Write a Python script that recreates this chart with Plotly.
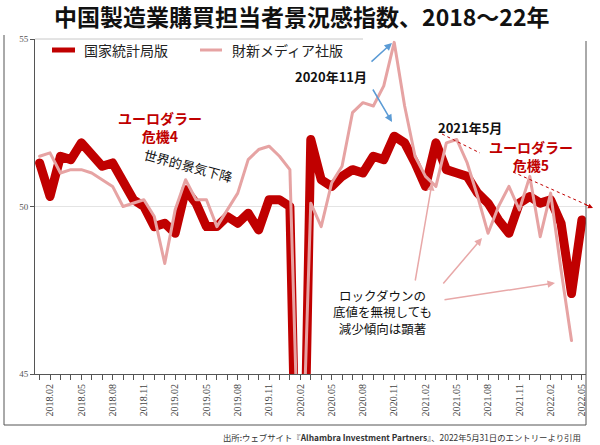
import plotly.graph_objects as go

# ---------------- data ----------------
years = [2018, 2019, 2020, 2021, 2022]
months = [f"{y}.{m:02d}" for y in years for m in range(1, 13)][:53]  # 2018.01 .. 2022.05

nbs_pmi = [51.3, 50.3, 51.5, 51.4, 51.9, 51.5, 51.2, 51.3, 50.8, 50.2, 50.0, 49.4,
           49.5, 49.2, 50.5, 50.1, 49.4, 49.4, 49.7, 49.5, 49.8, 49.3, 50.2, 50.2,
           50.0, 35.7, 52.0, 50.8, 50.6, 50.9, 51.1, 51.0, 51.5, 51.4, 52.1, 51.9,
           51.3, 50.6, 51.9, 51.1, 51.0, 50.9, 50.4, 50.1, 49.6, 49.2, 50.1, 50.3,
           50.1, 50.2, 49.5, 47.4, 49.6]
caixin_pmi = [51.5, 51.6, 51.0, 51.1, 51.1, 51.0, 50.8, 50.6, 50.0, 50.1, 50.2, 49.7,
              48.3, 49.9, 50.8, 50.2, 50.2, 49.4, 49.9, 50.4, 51.4, 51.7, 51.8, 51.5,
              51.1, 40.3, 50.1, 49.4, 50.7, 51.2, 52.8, 53.1, 53.0, 53.6, 54.9, 53.0,
              51.5, 50.9, 50.6, 51.9, 52.0, 51.3, 50.3, 49.2, 50.0, 50.6, 49.9, 50.9,
              49.1, 50.4, 48.1, 46.0, None]

tick_labels = ["2018.02", "2018.05", "2018.08", "2018.11", "2019.02", "2019.05",
               "2019.08", "2019.11", "2020.02", "2020.05", "2020.08", "2020.11",
               "2021.02", "2021.05", "2021.08", "2021.11", "2022.02", "2022.05"]
y_ticks = [45, 50, 55]

series_names = ["国家統計局版", "財新メディア社版"]

# ---------------- layout helpers (pixel -> paper) ----------------
W, H = 600, 445
L, R, T, B = 35, 14, 39, 71
PW, PH = W - L - R, H - T - B


def P(px):
    return (px - L) / PW


def Q(py):
    return (H - B - py) / PH


JP = "Noto Sans CJK JP"
RED = "#C00000"
PINK = "#E6A3A3"

fig = go.Figure()
fig.add_trace(go.Scatter(x=months, y=nbs_pmi, mode="lines", name=series_names[0],
                         line=dict(color=RED, width=9)))
fig.add_trace(go.Scatter(x=months, y=caixin_pmi, mode="lines", name=series_names[1],
                         line=dict(color=PINK, width=3)))

tick_text = [m if m in tick_labels else "" for m in months]

fig.update_layout(
    width=W, height=H,
    margin=dict(l=L, r=R, t=T, b=B, autoexpand=False),
    paper_bgcolor="white", plot_bgcolor="white",
    title=dict(text="<b>中国製造業購買担当者景況感指数、2018～22年</b>",
               x=0.503, xanchor="center", y=1 - 18 / H, yanchor="middle",
               font=dict(family=JP, size=23, color="#111")),
    showlegend=False,
    xaxis=dict(type="category", range=[-0.44, 52.39],
               tickmode="array", tickvals=months, ticktext=tick_text,
               tickangle=-90, ticks="outside", ticklen=5, tickcolor="#555",
               showline=True, linecolor="#555", linewidth=1,
               showgrid=False, zeroline=False,
               tickfont=dict(family="Liberation Serif", size=10, color="#444")),
    yaxis=dict(range=[45, 55], tickvals=y_ticks, ticks="outside", ticklen=4,
               tickcolor="#555", showline=True, linecolor="#555", linewidth=1,
               showgrid=False, zeroline=False,
               tickfont=dict(family="Liberation Serif", size=9, color="#555")),
)

shapes = []
# gridline at 50
shapes.append(dict(type="line", xref="paper", yref="y", x0=0, x1=1, y0=50, y1=50,
                   line=dict(color="#e4e4e4", width=1), layer="below"))
# partial top line
shapes.append(dict(type="line", xref="paper", yref="paper", x0=P(35), x1=P(363),
                   y0=Q(39), y1=Q(39), line=dict(color="#c8c8c8", width=1), layer="below"))
# outer frame (left, bottom, right)
frame = dict(color="#555", width=1)
shapes.append(dict(type="line", xref="paper", yref="paper", x0=P(4), x1=P(4),
                   y0=Q(35), y1=Q(425), line=frame))
shapes.append(dict(type="line", xref="paper", yref="paper", x0=P(4), x1=P(586),
                   y0=Q(425), y1=Q(425), line=frame))
shapes.append(dict(type="line", xref="paper", yref="paper", x0=P(586), x1=P(586),
                   y0=Q(41), y1=Q(425), line=frame))
# legend samples
shapes.append(dict(type="line", xref="paper", yref="paper", x0=P(52), x1=P(75),
                   y0=Q(50), y1=Q(50), line=dict(color=RED, width=5)))
shapes.append(dict(type="line", xref="paper", yref="paper", x0=P(200), x1=P(222),
                   y0=Q(50), y1=Q(50), line=dict(color=PINK, width=3)))
# dotted lines
shapes.append(dict(type="line", xref="paper", yref="paper", x0=P(442), x1=P(480),
                   y0=Q(134), y1=Q(153), line=dict(color=RED, width=1, dash="dot")))
shapes.append(dict(type="line", xref="paper", yref="paper", x0=P(513), x1=P(587),
                   y0=Q(172), y1=Q(205), line=dict(color=RED, width=1, dash="dot")))
fig.update_layout(shapes=shapes)

ann = []


def text(t, x, y, size, color="#111", bold=False, angle=0, xanchor="center"):
    ann.append(dict(text=(f"<b>{t}</b>" if bold else t), xref="paper", yref="paper",
                    x=P(x), y=Q(y), xanchor=xanchor, yanchor="middle",
                    showarrow=False, textangle=angle,
                    font=dict(family=JP, size=size, color=color)))


def arrow(tx, ty, hx, hy, color, width=1.5, head=2):
    ann.append(dict(text="", xref="paper", yref="paper", x=P(hx), y=Q(hy),
                    axref="pixel", ayref="pixel", ax=tx - hx, ay=ty - hy,
                    showarrow=True, arrowhead=head, arrowsize=1,
                    arrowwidth=width, arrowcolor=color))


# legend texts
text(series_names[0], 82, 50, 14, "#222", xanchor="left")
text(series_names[1], 230, 50, 14, "#222", xanchor="left")

text("ユーロダラー<br>危機4", 160, 127, 14, RED, bold=True)
text("世界的景気下降", 188, 165, 13, "#111", angle=15)
text("2020年11月", 331, 76, 13, "#111", bold=True)
text("2021年5月", 470, 127, 13, "#111", bold=True)
text("ユーロダラー<br>危機5", 531, 156, 14, RED, bold=True)
text("ロックダウンの<br>底値を無視しても<br>減少傾向は顕著", 382, 312, 12.5, "#111")
ann.append(dict(text="出所:ウェブサイト『<b>Alhambra Investment Partners</b>』、2022年5月31日のエントリーより引用",
                xref="paper", yref="paper", x=P(583), y=Q(437), xanchor="right",
                yanchor="middle", showarrow=False,
                font=dict(family=JP, size=8.4, color="#333")))

BLUE = "#5B9BD5"
arrow(370, 63, 392, 43, BLUE)
arrow(372, 88, 392, 122, BLUE)
ARW = "#E8A8A8"
arrow(415, 282, 432, 183, ARW)
arrow(442, 285, 482, 238, ARW)
arrow(443, 300, 555, 283, ARW)
arrow(583, 203.5, 593, 208, RED, width=1, head=2)

fig.update_layout(annotations=ann)

post = ("document.body.style.margin='0';document.body.style.padding='0';"
        "document.querySelectorAll('.scatterlayer .js-line').forEach(function(p){"
        "p.style.strokeLinejoin='round';p.style.strokeLinecap='round';});")
fig.write_html("out.html", post_script=post, config={"displayModeBar": False})
